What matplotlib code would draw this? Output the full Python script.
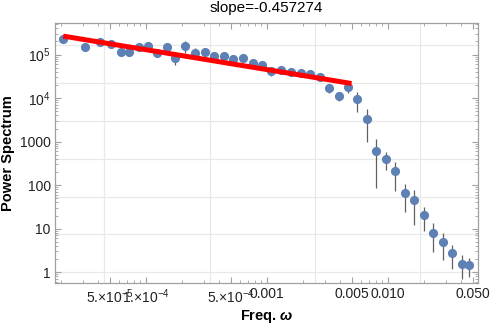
import matplotlib
matplotlib.use("Agg")
import matplotlib.pyplot as plt
import numpy as np
from matplotlib.ticker import FixedLocator, FixedFormatter, NullFormatter

plt.rcParams["font.family"] = ["Liberation Sans", "DejaVu Sans"]
plt.rcParams["mathtext.fontset"] = "custom"
plt.rcParams["mathtext.rm"] = "Liberation Sans"
plt.rcParams["mathtext.it"] = "Liberation Sans:italic"
plt.rcParams["mathtext.bf"] = "Liberation Sans:bold"
plt.rcParams["mathtext.bfit"] = "Liberation Sans:italic:bold"

# ---- data ------------------------------------------------------------------

freq = [2.07e-5, 3.13e-5, 4.17e-5, 5.14e-5, 6.21e-5, 7.24e-5, 8.81e-5, 1.03e-4,
        1.23e-4, 1.48e-4, 1.75e-4, 2.10e-4, 2.55e-4, 3.07e-4, 3.67e-4, 4.41e-4,
        5.26e-4, 6.37e-4, 7.62e-4, 9.14e-4, 1.09e-3, 1.31e-3, 1.58e-3, 1.90e-3,
        2.26e-3, 2.74e-3, 3.25e-3, 3.92e-3, 4.67e-3, 5.57e-3, 6.67e-3, 8.00e-3,
        9.61e-3, 1.15e-2, 1.38e-2, 1.65e-2, 1.99e-2, 2.37e-2, 2.85e-2, 3.40e-2,
        4.09e-2, 4.70e-2]

power = [2.23e5, 1.51e5, 1.91e5, 1.72e5, 1.16e5, 1.16e5, 1.49e5, 1.59e5,
         1.10e5, 1.51e5, 8.18e4, 1.59e5, 1.11e5, 1.12e5, 9.24e4, 9.38e4,
         7.88e4, 8.18e4, 6.48e4, 5.65e4, 4.18e4, 4.40e4, 4.03e4, 3.70e4,
         3.56e4, 3.09e4, 1.73e4, 1.11e4, 1.79e4, 9.33e3, 3.24e3, 605,
         396, 210, 64.4, 45.2, 20.4, 8.09, 4.89, 2.69,
         1.57, 1.43]

sigma = [1.5e4, 1.2e4, 1.5e4, 1.5e4, 1.2e4, 1.2e4, 1.5e4, 1.5e4,
         1.5e4, 3.5e4, 2.3e4, 5.0e4, 3.3e4, 1.2e4, 1.0e4, 1.0e4,
         8e3, 1.5e4, 8e3, 1.2e4, 9e3, 5e3, 5e3, 4e3,
         4e3, 4e3, 4300, 2700, 4800, 4560, 2270, 520,
         175, 135, 40, 33, 11.7, 5.2, 3.0, 1.53,
         0.87, 0.65]

slope = -0.457274
log_intercept = 3.283          # log10 of the fit amplitude
fit_fmax = 0.005

xtick_vals = [5e-5, 1e-4, 5e-4, 1e-3, 5e-3, 1e-2, 5e-2]
xtick_labels = [r"5.$\times$10$^{-5}$", r"1.$\times$10$^{-4}$", r"5.$\times$10$^{-4}$",
                "0.001", "0.005", "0.010", "0.050"]
ytick_vals = [1, 10, 100, 1000, 1e4, 1e5]
ytick_labels = ["1", "10", "100", "1000", r"10$^4$", r"10$^5$"]

# ---- plot ------------------------------------------------------------------

fig = plt.figure(figsize=(4.91, 3.25), dpi=100)
ax = fig.add_axes([0.112, 0.129, 0.8615, 0.800])
ax.set_xscale("log")
ax.set_yscale("log")
ax.set_xlim(1.77e-5, 0.0555)
ax.set_ylim(0.56, 5.3e5)

# Mathematica-style grid at even powers of e
for n in range(-10, -3, 2):
    ax.axvline(np.exp(n), color="#e8e8e8", lw=0.9, zorder=0)
for n in range(0, 14, 2):
    ax.axhline(np.exp(n), color="#e8e8e8", lw=0.9, zorder=0)

f = np.array(freq)
p = np.array(power)
s = np.array(sigma)
ax.errorbar(f, p, yerr=s, fmt="none", ecolor="#606060", elinewidth=0.9,
            capsize=0, zorder=2)
ax.plot(f, p, "o", color="#5E81B5", ms=6.6, mec="none", zorder=3)

fit_f = np.array([f[0], fit_fmax])
ax.plot(fit_f, 10 ** (log_intercept + slope * np.log10(fit_f)),
        color="#ff0000", lw=3.6, solid_capstyle="butt", zorder=4)

ax.set_title(f"slope={slope}", fontsize=11, pad=8)

ax.xaxis.set_major_locator(FixedLocator(xtick_vals))
ax.xaxis.set_major_formatter(FixedFormatter(xtick_labels))
minor_x = [m * 10.0 ** e for e in range(-5, -1) for m in range(1, 10)]
ax.xaxis.set_minor_locator(FixedLocator([v for v in minor_x if v not in xtick_vals]))
ax.xaxis.set_minor_formatter(NullFormatter())
ax.yaxis.set_major_locator(FixedLocator(ytick_vals))
ax.yaxis.set_major_formatter(FixedFormatter(ytick_labels))
minor_y = [m * 10.0 ** e for e in range(-1, 6) for m in range(2, 10)]
ax.yaxis.set_minor_locator(FixedLocator(minor_y))
ax.yaxis.set_minor_formatter(NullFormatter())

ax.tick_params(which="both", direction="in", top=True, right=True,
               color="#a0a0a0", labelcolor="#222222", labelsize=10)
ax.tick_params(which="major", length=4.5, width=0.8, pad=3)
ax.tick_params(which="minor", length=2.5, width=0.6)
for sp in ax.spines.values():
    sp.set_color("#a0a0a0")
    sp.set_linewidth(0.9)

ax.set_xlabel(r"Freq. $\mathbfit{\omega}$", fontsize=10.5, fontweight="bold", va="center")
ax.xaxis.set_label_coords(0.5, -0.127)
ax.set_ylabel("Power Spectrum", fontsize=10.5, fontweight="bold", va="center")
ax.yaxis.set_label_coords(-0.111, 0.5)

fig.savefig("out.png", dpi=100)
